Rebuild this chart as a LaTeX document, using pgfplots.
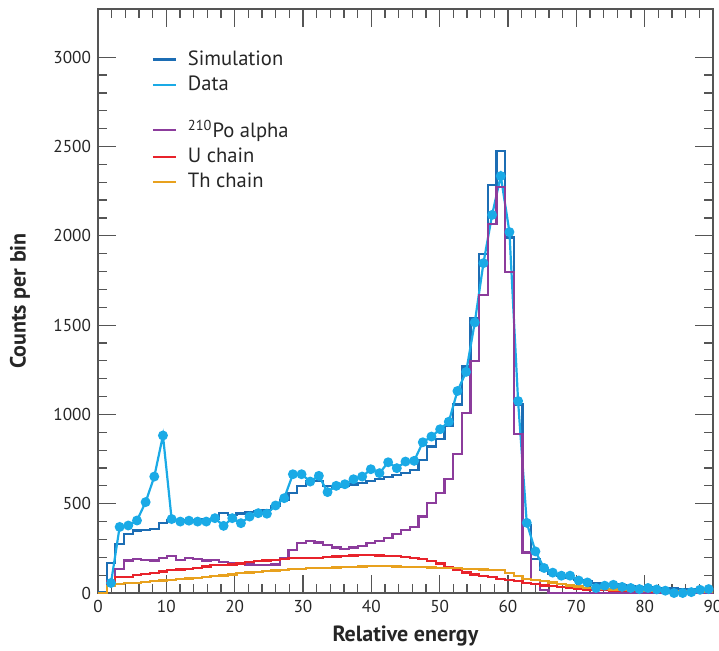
\documentclass[border=0pt]{standalone}
\usepackage{fontspec}
\setmainfont{PT Sans}
\usepackage{pgfplots}
\usepackage{pgfplotstable}
\pgfplotsset{compat=1.18}

\definecolor{simblue}{HTML}{1C6DB4}
\definecolor{datablue}{HTML}{1AAAE6}
\definecolor{popurple}{HTML}{8C3C9C}
\definecolor{ured}{HTML}{E8232B}
\definecolor{thorange}{HTML}{E8A11E}
\definecolor{axgray}{HTML}{555555}

% bin index k -> left edge k*90/71 ; last row closes the final bin
\pgfplotstableread{
k sim po u th
0 5 0 0 0
1 168 65 60 40
2 276 134 88 50
3 330 182 90 55
4 350 190 100 58
5 352 187 106 63
6 358 182 114 66
7 390 196 120 70
8 408 205 128 74
9 408 187 132 78
10 410 196 136 81
11 410 190 141 85
12 412 182 148 89
13 415 185 155 94
14 450 175 158 98
15 438 170 160 104
16 445 168 165 110
17 455 160 172 115
18 460 156 178 119
19 465 156 182 122
20 486 160 186 126
21 520 196 190 130
22 562 240 194 133
23 598 280 196 136
24 625 292 198 138
25 625 283 198 140
26 600 270 200 141
27 595 255 204 143
28 600 245 206 145
29 607 255 210 147
30 615 265 212 148
31 628 278 212 149
32 637 292 210 149
33 648 310 208 149
34 660 330 205 148
35 672 352 202 147
36 690 370 196 146
37 745 428 190 145
38 820 503 180 143
39 861 559 165 141
40 937 637 145 140
41 1056 779 128 138
42 1268 1010 115 136
43 1540 1301 104 134
44 1900 1668 95 132
45 2285 2065 88 130
46 2477 2273 80 127
47 1991 1798 72 112
48 1056 891 65 95
49 382 227 57 80
50 190 74 51 71
51 130 18 42 65
52 108 0 37 59
53 93 0 33 52
54 84 0 28 42
55 74 0 23 36
56 65 0 20 30
57 56 0 18 26
58 50 0 16 22
59 48 0 14 20
60 45 0 13 18
61 40 0 12 16
62 35 0 10 15
63 31 0 9 14
64 28 0 8 13
65 25 0 7 12
66 25 0 6 11
67 20 0 6 10
68 20 0 5 10
69 15 0 5 9
70 15 0 4 8
71 15 0 4 8
}\histtable

% data points at bin centres (k+0.5)*90/71
\pgfplotstableread{
k d
1 56
2 370
3 378
4 406
5 509
6 652
7 882
8 414
9 400
10 405
11 400
12 400
13 419
14 376
15 419
16 391
17 428
18 447
19 444
20 490
21 531
22 665
23 665
24 624
25 656
26 565
27 600
28 609
29 637
30 652
31 693
32 671
33 732
34 699
35 736
36 740
37 844
38 876
39 917
40 959
41 1131
42 1238
43 1515
44 1847
45 2117
46 2335
47 2021
48 1075
49 393
50 233
51 140
52 114
53 97
54 97
55 70
56 59
57 28
58 41
59 46
60 34
61 28
62 22
63 28
64 20
65 13
66 0
67 0
68 5
69 18
70 22
}\datatable

\begin{document}
\begin{tikzpicture}
  \useasboundingbox (-49pt,-28.5pt) rectangle (310.5pt,296.5pt);
  \begin{axis}[
      at={(0,0)}, anchor=south west,
      scale only axis, width=307.5pt, height=292pt,
      xmin=0, xmax=90, ymin=0, ymax=3270,
      xtick={0,10,...,90}, ytick={0,500,...,3000},
      minor x tick num=4, minor y tick num=4,
      tick align=inside,
      major tick length=9pt, minor tick length=4.5pt,
      axis line style={draw=axgray, line width=0.8pt},
      every tick/.style={axgray, line width=0.6pt},
      tick label style={font=\fontsize{8.6}{10}\selectfont, text=black!85},
      /pgf/number format/assume math mode=true,
      /pgf/number format/1000 sep={},
      xlabel={\textbf{Relative energy}},
      ylabel={\textbf{Counts per bin}},
      label style={font=\fontsize{11}{13}\selectfont, text=black!85},
      xlabel style={at={(axis description cs:0.5,-0.0736)}, anchor=center},
      ylabel style={at={(axis description cs:-0.127,0.5)}, anchor=center},
      legend style={draw=none, fill=none,
        at={(axis description cs:0.077,0.943)}, anchor=north west,
        font=\fontsize{10.3}{12}\selectfont, text=black!85,
        row sep=-0.2pt, cells={anchor=west}},
      legend image code/.code={\draw[#1, line width=1.1pt] (0pt,0pt) -- (11.5pt,0pt);
                               \path (15pt,0pt);},
      histo/.style={const plot, line width=1.1pt, mark=none},
    ]
    \addplot[histo, simblue] table[x expr=\thisrow{k}*90/71, y=sim] {\histtable};
    \addlegendentry{Simulation}
    \addplot[datablue, line width=1.1pt, mark=*, mark size=1.9pt,
             mark options={fill=datablue, draw=datablue}]
      table[x expr=(\thisrow{k}+0.5)*90/71, y=d] {\datatable};
    \addlegendentry{Data}
    \addlegendimage{empty legend}
    \addlegendentry{\rule{0pt}{4pt}}
    \addplot[histo, popurple] table[x expr=\thisrow{k}*90/71, y=po] {\histtable};
    \addlegendentry{\textsuperscript{210}Po alpha}
    \addplot[histo, ured] table[x expr=\thisrow{k}*90/71, y=u] {\histtable};
    \addlegendentry{U chain}
    \addplot[histo, thorange] table[x expr=\thisrow{k}*90/71, y=th] {\histtable};
    \addlegendentry{Th chain}
  \end{axis}
\end{tikzpicture}
\end{document}
